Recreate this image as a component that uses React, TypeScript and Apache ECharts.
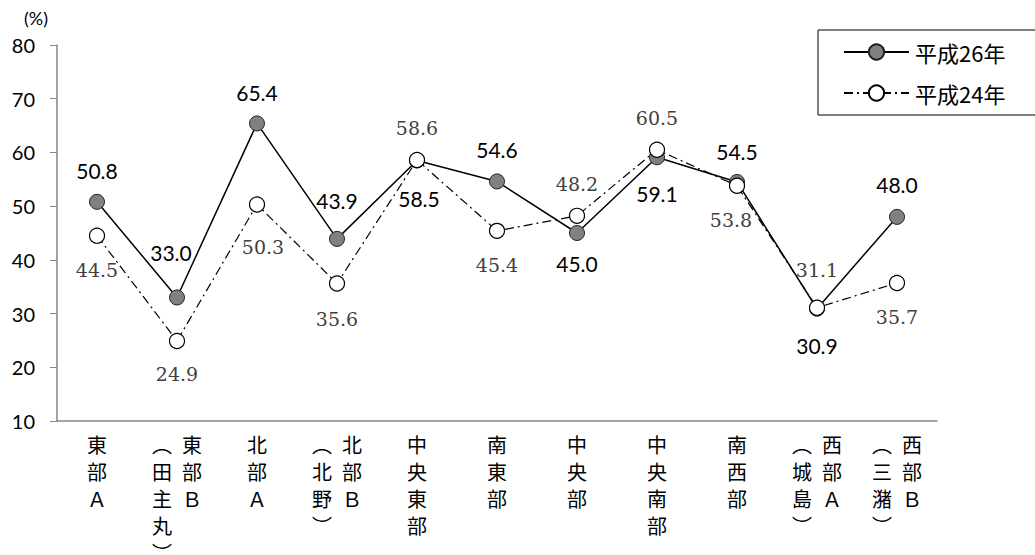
import React, { useEffect, useRef } from "react";
import * as echarts from "echarts";

// category names, one row of the vertical label per line
const categories = [
  "東\n部\nＡ",
  "︵\u2002東\n田\u2002部\n主\u2002Ｂ\n丸\u2002　\n︶\u2002　",
  "北\n部\nＡ",
  "︵\u2002北\n北\u2002部\n野\u2002Ｂ\n︶\u2002　",
  "中\n央\n東\n部",
  "南\n東\n部",
  "中\n央\n部",
  "中\n央\n南\n部",
  "南\n西\n部",
  "︵\u2002西\n城\u2002部\n島\u2002Ａ\n︶\u2002　",
  "︵\u2002西\n三\u2002部\n潴\u2002Ｂ\n︶\u2002　",
];

const h26 = [50.8, 33.0, 65.4, 43.9, 58.5, 54.6, 45.0, 59.1, 54.5, 30.9, 48.0];
const h24 = [44.5, 24.9, 50.3, 35.6, 58.6, 45.4, 48.2, 60.5, 53.8, 31.1, 35.7];

const h26Offsets = [
  [0, -31], [-6, -45], [0, -31], [0, -38], [2, 38], [0, -32],
  [0, 30], [0, 36], [0, -30], [0, 37], [0, -32],
];
const h24Offsets = [
  [0, 34], [0, 33], [6, 42], [0, 36], [0, -32], [0, 34],
  [0, -32], [0, -32], [-6, 34], [0, -38], [0, 34],
];

const yTicks = { min: 10, max: 80, interval: 10 };

export default function App() {
  const ref = useRef<HTMLDivElement>(null);
  useEffect(() => {
    if (!ref.current) return;
    const chart = echarts.init(ref.current, null, { renderer: "svg" });
    const mk = (vals: number[], offs: number[][]) =>
      vals.map((v, i) => ({ value: v, label: { offset: offs[i] } }));
    const fmt = (p: any) => Number(p.value).toFixed(1);
    const split = categories.map((c) => c.split("\n"));
    const nRows = Math.max(...split.map((s) => s.length));
    const rowH = 27;
    const xAxes = Array.from({ length: nRows }, (_, k) => ({
      type: "category",
      gridIndex: 0,
      position: "bottom",
      offset: k * rowH,
      data: split.map((s) => s[k] ?? ""),
      boundaryGap: true,
      axisLine: {
        show: k === 0,
        lineStyle: { color: "#868686", width: 1.5 },
      },
      axisTick: { show: false },
      splitLine: { show: false },
      axisLabel: {
        interval: 0,
        margin: 10,
        fontFamily: '"Noto Sans CJK JP"',
        fontSize: 20,
        lineHeight: rowH,
        color: "#000",
        verticalAlign: "top",
      },
    }));
    chart.setOption({
      animation: false,
      backgroundColor: "#fff",
      grid: {
        left: 57,
        right: 98,
        top: 45,
        bottom: 134,
        containLabel: false,
        outerBoundsMode: "none",
      },
      legend: {
        orient: "vertical",
        left: 818,
        top: 30,
        padding: [11, 80, 11, 25],
        borderColor: "#000",
        borderWidth: 1,
        itemWidth: 65,
        itemHeight: 19,
        itemGap: 19,
        textStyle: {
          fontFamily: '"Noto Sans CJK JP"',
          fontSize: 22,
          color: "#000",
          padding: [0, 0, 0, 1],
        },
        data: ["平成26年", "平成24年"],
      },
      graphic: [
        {
          type: "text",
          left: 24,
          top: 9,
          style: { text: "(%)", font: '18px "Lato"', fill: "#000" },
        },
      ],
      xAxis: xAxes,
      yAxis: {
        type: "value",
        min: yTicks.min,
        max: yTicks.max,
        interval: yTicks.interval,
        splitLine: { show: false },
        axisLine: { show: true, lineStyle: { color: "#868686", width: 1.5 } },
        axisTick: { show: true, length: 7, lineStyle: { color: "#868686" } },
        axisLabel: { margin: 22, fontFamily: "Lato", fontSize: 20, color: "#000" },
      },
      series: [
        {
          name: "平成26年",
          type: "line",
          xAxisIndex: 0,
          data: mk(h26, h26Offsets),
          symbol: "circle",
          symbolSize: 15,
          lineStyle: { color: "#000", width: 1.5, type: "solid" },
          itemStyle: { color: "#808080", borderColor: "#222", borderWidth: 1 },
          label: {
            show: true,
            position: "inside",
            formatter: fmt,
            fontFamily: "Lato",
            fontSize: 21,
            color: "#000",
          },
          z: 2,
        },
        {
          name: "平成24年",
          type: "line",
          xAxisIndex: 0,
          data: mk(h24, h24Offsets),
          symbol: "circle",
          symbolSize: 15,
          lineStyle: { color: "#000", width: 1.2, type: [9, 4, 2, 4] },
          itemStyle: { color: "#fff", borderColor: "#000", borderWidth: 1.2 },
          label: {
            show: true,
            position: "inside",
            formatter: fmt,
            fontFamily: "DejaVu Serif",
            fontSize: 19,
            color: "#404040",
          },
          z: 3,
        },
      ],
    });
    return () => chart.dispose();
  }, []);
  return (
    <div
      ref={ref}
      style={{ position: "absolute", left: 0, top: 0, width: 1035, height: 555 }}
    />
  );
}
